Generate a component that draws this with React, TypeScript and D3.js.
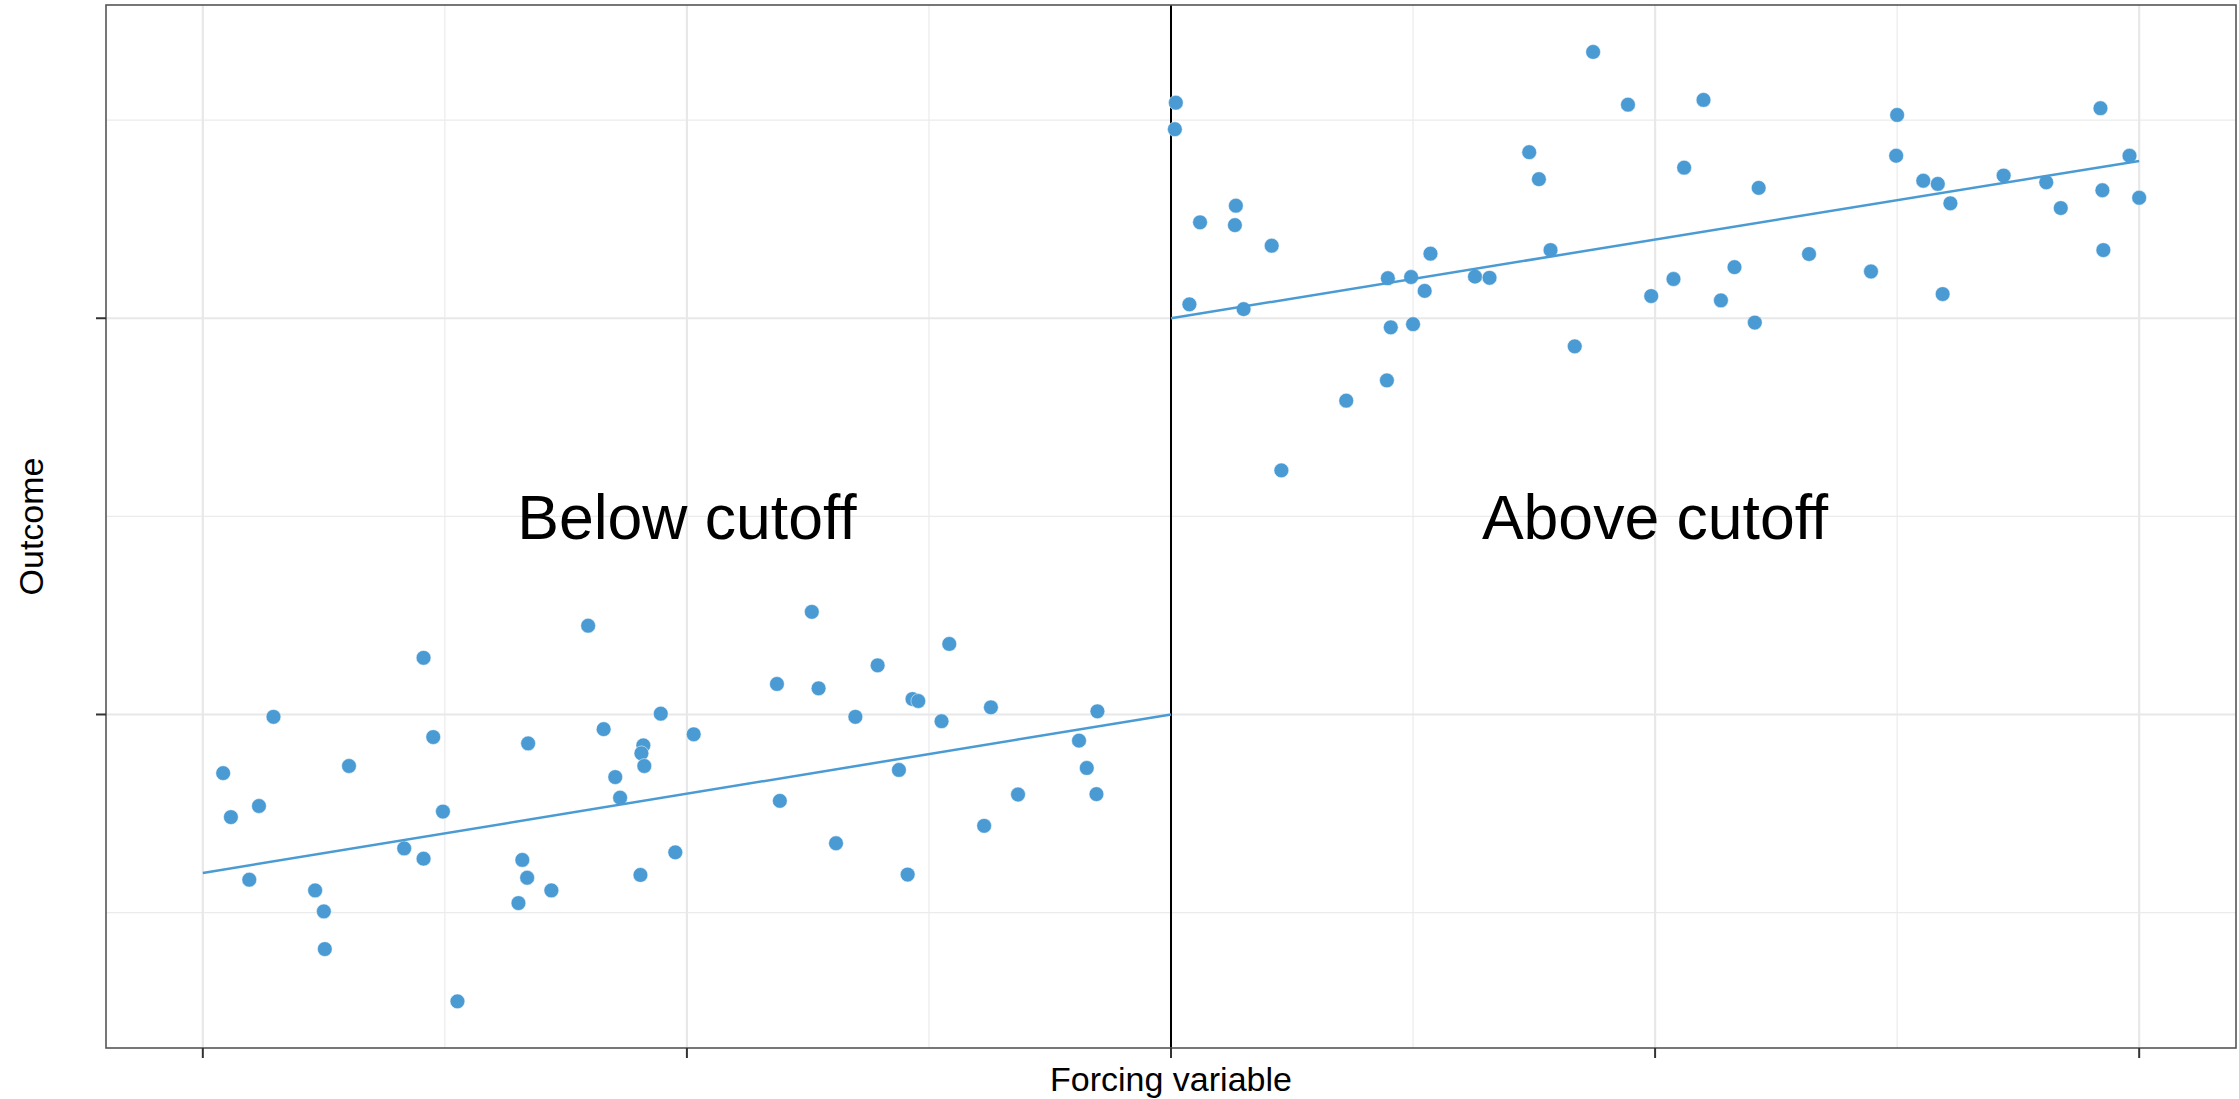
import * as d3 from 'd3';
import React, { useEffect, useRef } from 'react';

// forcing variable / outcome, points below the cutoff
const belowX = [-0.979, -0.971, -0.942, -0.927, -0.952, -0.884, -0.875, -0.874, -0.849, -0.772,
  -0.762, -0.792, -0.772, -0.752, -0.737, -0.664, -0.670, -0.665, -0.640, -0.674,
  -0.602, -0.586, -0.574, -0.569, -0.545, -0.547, -0.544, -0.527, -0.548, -0.512,
  -0.493, -0.371, -0.407, -0.364, -0.303, -0.326, -0.267, -0.261, -0.229, -0.237,
  -0.186, -0.076, -0.095, -0.087, -0.077, -0.158, -0.193, -0.281, -0.404, -0.346, -0.272];
const belowY = [-0.148, -0.259, -0.231, -0.006, -0.417, -0.444, -0.497, -0.592, -0.130, 0.143,
  -0.057, -0.338, -0.364, -0.245, -0.724, -0.073, -0.367, -0.412, -0.444, -0.476,
  0.224, -0.037, -0.158, -0.210, -0.078, -0.098, -0.130, 0.002, -0.405, -0.348,
  -0.050, 0.259, 0.077, 0.066, 0.124, -0.006, 0.039, 0.034, 0.178, -0.017,
  0.018, 0.008, -0.066, -0.135, -0.201, -0.202, -0.281, -0.140, -0.218, -0.325, -0.404];

// points above the cutoff
const aboveX = [0.005, 0.004, 0.030, 0.067, 0.066, 0.104, 0.019, 0.075, 0.114, 0.181,
  0.223, 0.227, 0.250, 0.224, 0.248, 0.262, 0.268, 0.314, 0.329, 0.370,
  0.380, 0.392, 0.417, 0.436, 0.472, 0.496, 0.519, 0.530, 0.550, 0.607,
  0.582, 0.568, 0.603, 0.659, 0.723, 0.750, 0.749, 0.777, 0.792, 0.805,
  0.797, 0.860, 0.904, 0.919, 0.960, 0.962, 0.963, 0.990, 1.000];
const aboveY = [1.544, 1.477, 1.242, 1.284, 1.235, 1.183, 1.035, 1.023, 0.616, 0.792,
  0.843, 0.977, 0.985, 1.101, 1.104, 1.069, 1.163, 1.105, 1.102, 1.419,
  1.351, 1.172, 0.929, 1.672, 1.539, 1.056, 1.099, 1.380, 1.551, 1.329,
  1.129, 1.045, 0.989, 1.162, 1.118, 1.513, 1.410, 1.347, 1.339, 1.290,
  1.061, 1.360, 1.343, 1.278, 1.530, 1.323, 1.172, 1.410, 1.304];

// fitted lines: [x, y] at both ends
const fitBelow = [[-1, -0.4], [0, 0]];
const fitAbove = [[0, 1.0], [1, 1.397]];

const xBreaks = [-1, -0.5, 0, 0.5, 1];
const xMinor = [-0.75, -0.25, 0.25, 0.75];
const yBreaks = [0, 1];
const yMinor = [-0.5, 0.5, 1.5];

const labels = [
  { x: -0.5, y: 0.5, text: 'Below cutoff' },
  { x: 0.5, y: 0.5, text: 'Above cutoff' },
];

const cutoff = 0;

export default function App() {
  const ref = useRef<SVGSVGElement>(null);

  useEffect(() => {
    const svgWidth = 2239;
    const svgHeight = 1099;
    const margin = { top: 5, right: 3, bottom: 51, left: 106 };
    const width = svgWidth - margin.left - margin.right;
    const height = svgHeight - margin.top - margin.bottom;
    const blue = '#4a9bd4';
    const font = '"Liberation Sans", Arial, Helvetica, sans-serif';

    const root = d3.select(ref.current);
    root.selectAll('*').remove();

    const svg = root.append('g')
      .attr('transform', `translate(${margin.left},${margin.top})`);

    const x = d3.scaleLinear().domain([-1.1, 1.1]).range([0, width]);
    const y = d3.scaleLinear().domain([-0.8417, 1.7905]).range([height, 0]);

    // grid
    svg.selectAll('.xminor').data(xMinor).enter().append('line')
      .attr('x1', d => x(d)).attr('x2', d => x(d))
      .attr('y1', 0).attr('y2', height)
      .attr('stroke', '#ebebeb').attr('stroke-width', 1.2);
    svg.selectAll('.yminor').data(yMinor).enter().append('line')
      .attr('y1', d => y(d)).attr('y2', d => y(d))
      .attr('x1', 0).attr('x2', width)
      .attr('stroke', '#ebebeb').attr('stroke-width', 1.2);
    svg.selectAll('.xmajor').data(xBreaks).enter().append('line')
      .attr('x1', d => x(d)).attr('x2', d => x(d))
      .attr('y1', 0).attr('y2', height)
      .attr('stroke', '#e8e8e8').attr('stroke-width', 2.2);
    svg.selectAll('.ymajor').data(yBreaks).enter().append('line')
      .attr('y1', d => y(d)).attr('y2', d => y(d))
      .attr('x1', 0).attr('x2', width)
      .attr('stroke', '#e8e8e8').attr('stroke-width', 2.2);

    // cutoff line
    svg.append('line')
      .attr('x1', x(cutoff)).attr('x2', x(cutoff))
      .attr('y1', 0).attr('y2', height)
      .attr('stroke', '#000').attr('stroke-width', 2);

    // points
    const below = belowX.map((v, i) => [v, belowY[i]]);
    const above = aboveX.map((v, i) => [v, aboveY[i]]);
    svg.selectAll('.pt').data([...below, ...above]).enter().append('circle')
      .attr('cx', d => x(d[0]))
      .attr('cy', d => y(d[1]))
      .attr('r', 7.4)
      .attr('fill', blue)
      .attr('stroke', '#fff')
      .attr('stroke-width', 0.5);

    // fitted lines
    const line = d3.line<number[]>().x(d => x(d[0])).y(d => y(d[1]));
    [fitBelow, fitAbove].forEach(f => {
      svg.append('path')
        .attr('d', line(f))
        .attr('fill', 'none')
        .attr('stroke', blue)
        .attr('stroke-width', 2.5);
    });

    // annotations
    svg.selectAll('.lbl').data(labels).enter().append('text')
      .attr('x', d => x(d.x))
      .attr('y', d => y(d.y))
      .attr('dy', '0.36em')
      .attr('text-anchor', 'middle')
      .style('font-family', font)
      .style('font-size', '62.5px')
      .attr('fill', '#000')
      .text(d => d.text);

    // panel border
    svg.append('rect')
      .attr('x', 0).attr('y', 0)
      .attr('width', width).attr('height', height)
      .attr('fill', 'none')
      .attr('stroke', '#555').attr('stroke-width', 1.6);

    // ticks (no labels)
    svg.selectAll('.xtick').data(xBreaks).enter().append('line')
      .attr('x1', d => x(d)).attr('x2', d => x(d))
      .attr('y1', height).attr('y2', height + 10)
      .attr('stroke', '#333').attr('stroke-width', 2);
    svg.selectAll('.ytick').data(yBreaks).enter().append('line')
      .attr('y1', d => y(d)).attr('y2', d => y(d))
      .attr('x1', -10).attr('x2', 0)
      .attr('stroke', '#333').attr('stroke-width', 2);

    // axis titles
    svg.append('text')
      .attr('x', width / 2)
      .attr('y', height + 43)
      .attr('text-anchor', 'middle')
      .style('font-family', font)
      .style('font-size', '34px')
      .text('Forcing variable');

    svg.append('text')
      .attr('x', -(height / 2))
      .attr('y', 43 - margin.left)
      .attr('transform', 'rotate(-90)')
      .attr('text-anchor', 'middle')
      .style('font-family', font)
      .style('font-size', '34px')
      .text('Outcome');
  }, []);

  return (
    <svg
      ref={ref}
      width={2239}
      height={1099}
      style={{ position: 'absolute', left: 0, top: 0, background: '#fff' }}
    />
  );
}
